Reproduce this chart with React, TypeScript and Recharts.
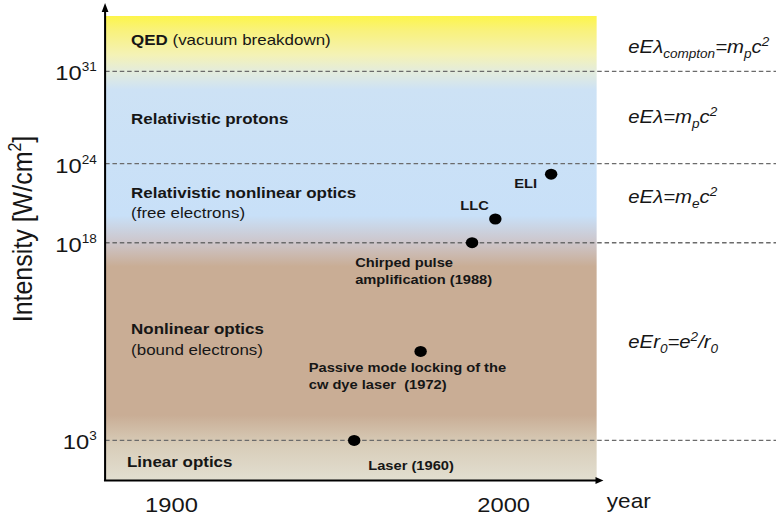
import { ComposedChart, Scatter, XAxis, YAxis, ReferenceArea, ReferenceLine } from 'recharts';

// the source picture is stretched sideways, so the whole chart is drawn narrow and scaled in x
const STRETCH = 1.13;
const W = 688;
const H = 519;

const EVENTS = ['Laser', 'Passive mode locking', 'CPA', 'LLC', 'ELI'];
const YEARS = [1955, 1975, 1990.5, 1997.5, 2014.3];
const INTENSITY_EXP = [3, 9.75, 18, 19.8, 23.2];
const EVENT_LABELS = [
  ['Laser (1960)'],
  ['Passive mode locking of the', 'cw dye laser  (1972)'],
  ['Chirped pulse', 'amplification (1988)'],
  ['LLC'],
  ['ELI'],
];

const X_TICKS = [1900, 2000];
const Y_TICKS = [3, 18, 24, 31];
const THRESHOLDS = [3, 18, 24, 31];
const X_DOMAIN = [1880, 2028];
const Y_DOMAIN = [0, 35.2];

// formula pieces: [text, shift] where shift 0 = normal, 1 = subscript, -1 = superscript
type Piece = [string, number];
const FORMULAS: { y: number; parts: Piece[] }[] = [
  { y: 53, parts: [['eEλ', 0], ['compton', 1], ['=m', 0], ['p', 1], ['c', 0], ['2', -1]] },
  { y: 123, parts: [['eEλ=m', 0], ['p', 1], ['c', 0], ['2', -1]] },
  { y: 203, parts: [['eEλ=m', 0], ['e', 1], ['c', 0], ['2', -1]] },
  { y: 348, parts: [['eEr', 0], ['0', 1], ['=e', 0], ['2', -1], ['/r', 0], ['0', 1]] },
];

// label placement relative to each dot: [dx, first baseline dy, line step]
const LABEL_OFFSETS: Record<string, [number, number, number]> = {
  Laser: [12.4, 30, 17],
  'Passive mode locking': [-99, 21, 17],
  CPA: [-103.5, 24, 17],
  LLC: [-31, -9, 17],
  ELI: [-32.7, 14, 17],
};

const data = EVENTS.map((name, i) => ({
  name,
  year: YEARS[i],
  exp: INTENSITY_EXP[i],
  lines: EVENT_LABELS[i],
}));

const INK = '#161616';

function EventDot(props: any) {
  const { cx, cy, payload } = props;
  const [dx, dy, step] = LABEL_OFFSETS[payload.name];
  return (
    <g>
      <circle cx={cx} cy={cy} r={5.5} fill="#000" />
      <text x={cx + dx} y={cy + dy} fontSize={13} fontWeight="bold" fill={INK} style={{ whiteSpace: 'pre' }}>
        {payload.lines.map((l: string, k: number) => (
          <tspan key={k} x={cx + dx} y={cy + dy + k * step}>
            {l}
          </tspan>
        ))}
      </text>
    </g>
  );
}

function YTick(props: any) {
  const { x, y, payload } = props;
  return (
    <text x={x - 7.4} y={y + 9} textAnchor="end" fontSize={21} fill={INK}>
      10
      <tspan dy={-9} fontSize={12}>
        {payload.value}
      </tspan>
    </text>
  );
}

function XTick(props: any) {
  const { x, y, payload } = props;
  return (
    <text x={x} y={y + 32} textAnchor="middle" fontSize={21} fill={INK}>
      {payload.value}
    </text>
  );
}

function Formula({ y, parts }: { y: number; parts: Piece[] }) {
  let prev = 0;
  const offs = [0, 5, -7];
  return (
    <text x={556} y={y}>
      {parts.map(([t, s], i) => {
        const cur = s === 1 ? offs[1] : s === -1 ? offs[2] : 0;
        const dy = cur - prev;
        prev = cur;
        return (
          <tspan key={i} dy={dy} fontSize={s === 0 ? 18 : 12}>
            {t}
          </tspan>
        );
      })}
    </text>
  );
}

function Overlay() {
  return (
    <svg width={W} height={H} style={{ position: 'absolute', left: 0, top: 0, pointerEvents: 'none' }}>
      {/* axes with arrows */}
      <line x1={93} y1={481} x2={93} y2={10} stroke="#000" strokeWidth={1.8} />
      <polygon points="93,3 90,12 96,12" fill="#000" />
      <line x1={92} y1={480.5} x2={528} y2={480.5} stroke="#000" strokeWidth={2} />
      <polygon points="534,480.5 527,477 527,484" fill="#000" />

      <text transform="translate(28.3,229) rotate(-90)" textAnchor="middle" fontSize={25} fill={INK}>
        Intensity [W/cm<tspan dy={-10} fontSize={16}>2</tspan><tspan dy={10}>]</tspan>
      </text>
      <text x={537} y={508} fontSize={20} fill={INK}>year</text>

      {/* regimes */}
      <g fontSize={15} fill={INK}>
        <text x={116} y={45}>
          <tspan fontWeight="bold">QED</tspan> (vacuum breakdown)
        </text>
        <text x={116} y={124} fontWeight="bold">Relativistic protons</text>
        <text x={116} y={198} fontWeight="bold">Relativistic nonlinear optics</text>
        <text x={116} y={218}>(free electrons)</text>
        <text x={116} y={334} fontWeight="bold">Nonlinear optics</text>
        <text x={116} y={355}>(bound electrons)</text>
        <text x={112.4} y={467} fontWeight="bold">Linear optics</text>
      </g>

      {/* thresholds */}
      <g fontStyle="italic" fill={INK}>
        {FORMULAS.map((f) => (
          <Formula key={f.y} y={f.y} parts={f.parts} />
        ))}
      </g>
    </svg>
  );
}

export default function App() {
  return (
    <div
      style={{
        position: 'absolute',
        left: 0,
        top: 0,
        width: W,
        height: H,
        transform: `scaleX(${STRETCH})`,
        transformOrigin: '0 0',
        fontFamily: '"Liberation Sans", Arial, sans-serif',
        background: '#fff',
      }}
    >
      <ComposedChart width={W} height={H} data={data} margin={{ top: 16, right: 160, bottom: 0, left: 0 }}>
        <defs>
          <linearGradient id="regimes" x1="0" y1="0" x2="0" y2="1">
            <stop offset="0" stopColor="#fdf54a" />
            <stop offset="0.03" stopColor="#f9f27a" />
            <stop offset="0.084" stopColor="#f4f2b6" />
            <stop offset="0.119" stopColor="#e4ecdc" />
            <stop offset="0.159" stopColor="#cde2f5" />
            <stop offset="0.43" stopColor="#c8e0f8" />
            <stop offset="0.487" stopColor="#cdc6cb" />
            <stop offset="0.54" stopColor="#c9ad95" />
            <stop offset="0.86" stopColor="#c9ad95" />
            <stop offset="0.925" stopColor="#d8cdb9" />
            <stop offset="1" stopColor="#e2ded0" />
          </linearGradient>
        </defs>
        <XAxis
          type="number"
          dataKey="year"
          domain={X_DOMAIN}
          ticks={X_TICKS}
          allowDataOverflow
          axisLine={false}
          tickLine={false}
          tickSize={0}
          tickMargin={0}
          height={39}
          tick={<XTick />}
        />
        <YAxis
          type="number"
          dataKey="exp"
          domain={Y_DOMAIN}
          ticks={Y_TICKS}
          allowDataOverflow
          axisLine={false}
          tickLine={false}
          tickSize={0}
          tickMargin={0}
          width={93}
          tick={<YTick />}
        />
        <ReferenceArea
          x1={X_DOMAIN[0]}
          x2={X_DOMAIN[1]}
          y1={Y_DOMAIN[0]}
          y2={Y_DOMAIN[1]}
          fill="url(#regimes)"
          fillOpacity={1}
          stroke="none"
        />
        {THRESHOLDS.map((t) => (
          <ReferenceLine
            key={t}
            segment={[
              { x: X_DOMAIN[0], y: t },
              { x: 2082, y: t },
            ]}
            ifOverflow="visible"
            stroke="#6b6b6b"
            strokeWidth={1.3}
            strokeDasharray="4 2.5"
          />
        ))}
        <Scatter dataKey="exp" isAnimationActive={false} shape={<EventDot />} />
      </ComposedChart>
      <Overlay />
    </div>
  );
}
